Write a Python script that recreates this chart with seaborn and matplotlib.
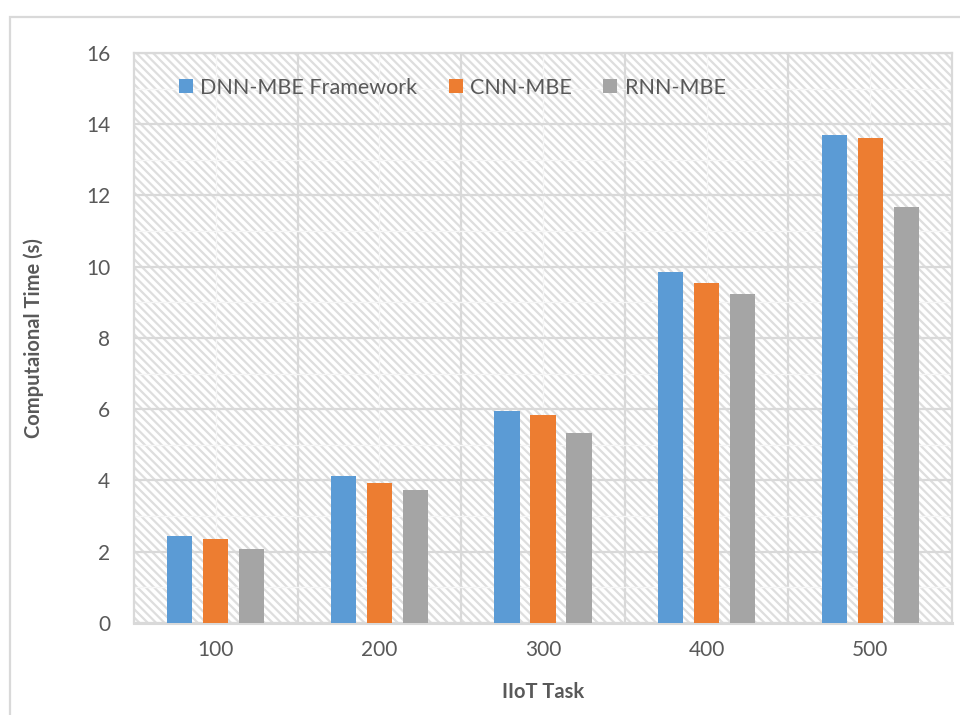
import matplotlib
matplotlib.use("Agg")
import matplotlib.pyplot as plt
import pandas as pd
import seaborn as sns
from matplotlib.patches import Rectangle
from matplotlib.ticker import MultipleLocator, FixedLocator

tasks = ["100", "200", "300", "400", "500"]
dnn_mbe = [2.44, 4.12, 5.95, 9.84, 13.71]
cnn_mbe = [2.35, 3.93, 5.83, 9.54, 13.60]
rnn_mbe = [2.08, 3.72, 5.32, 9.24, 11.68]
methods = ["DNN-MBE Framework", "CNN-MBE", "RNN-MBE"]
colors = ["#5B9BD5", "#ED7D31", "#A5A5A5"]

df = pd.DataFrame({
    "task": tasks * 3,
    "time": dnn_mbe + cnn_mbe + rnn_mbe,
    "method": [m for m in methods for _ in tasks],
})

sns.set_theme(style="white")
plt.rcParams["font.family"] = ["Lato", "DejaVu Sans"]
plt.rcParams["hatch.linewidth"] = 1.6
plt.rcParams["hatch.color"] = "#DEDEDE"

text_color = "#595959"
grid_color = "#D9D9D9"

fig = plt.figure(figsize=(9.6, 7.15), dpi=100)
ax = fig.add_axes([0.1396, 0.1287, 0.852, 0.7972])

# hatched plot background like the Excel chart
ax.patch.set_facecolor("white")
ax.patch.set_hatch("\\\\\\\\")
ax.patch.set_edgecolor("#DEDEDE")

sns.barplot(
    data=df, x="task", y="time", hue="method", order=tasks,
    hue_order=methods, palette=colors, width=0.66, gap=0.3,
    linewidth=0, saturation=1, ax=ax, zorder=3,
)

ax.set_ylim(0, 16)
ax.set_xlim(-0.5, 4.5)
ax.yaxis.set_major_locator(MultipleLocator(2))
ax.yaxis.set_minor_locator(MultipleLocator(1))
ax.xaxis.set_minor_locator(FixedLocator([0.5, 1.5, 2.5, 3.5]))

ax.set_axisbelow(True)
ax.yaxis.grid(True, which="major", color=grid_color, lw=1.6, zorder=1)
ax.yaxis.grid(True, which="minor", color="#F6F6F6", lw=1.0, zorder=1)
ax.xaxis.grid(True, which="minor", color=grid_color, lw=1.6, zorder=1)
ax.xaxis.grid(True, which="major", color="#F6F6F6", lw=1.0, zorder=1)

for side, sp in ax.spines.items():
    sp.set_visible(True)
    sp.set_color(grid_color)
    sp.set_linewidth(1.6)
ax.spines["bottom"].set_linewidth(2.2)

ax.tick_params(axis="both", which="both", length=0, labelsize=15,
               labelcolor=text_color)
ax.tick_params(axis="y", pad=17)
ax.tick_params(axis="x", pad=12)

ax.set_xlabel("IIoT Task", fontsize=14.5, fontweight="bold", color=text_color,
              labelpad=16)
ax.set_ylabel("Computaional Time (s)", fontsize=14.5, fontweight="bold",
              color=text_color, labelpad=30)

ax.legend(
    loc="center", bbox_to_anchor=(0.389, 0.939), ncol=3, frameon=False,
    fontsize=15.5, handlelength=0.65, handleheight=0.65, handletextpad=0.35,
    columnspacing=1.45, labelcolor=text_color,
)

# outer chart border
fig.patches.append(Rectangle((0.0104, -0.02), 1.0, 0.9960, transform=fig.transFigure,
                             fill=False, edgecolor=grid_color, lw=1.6))

fig.savefig("out.png", dpi=100)
